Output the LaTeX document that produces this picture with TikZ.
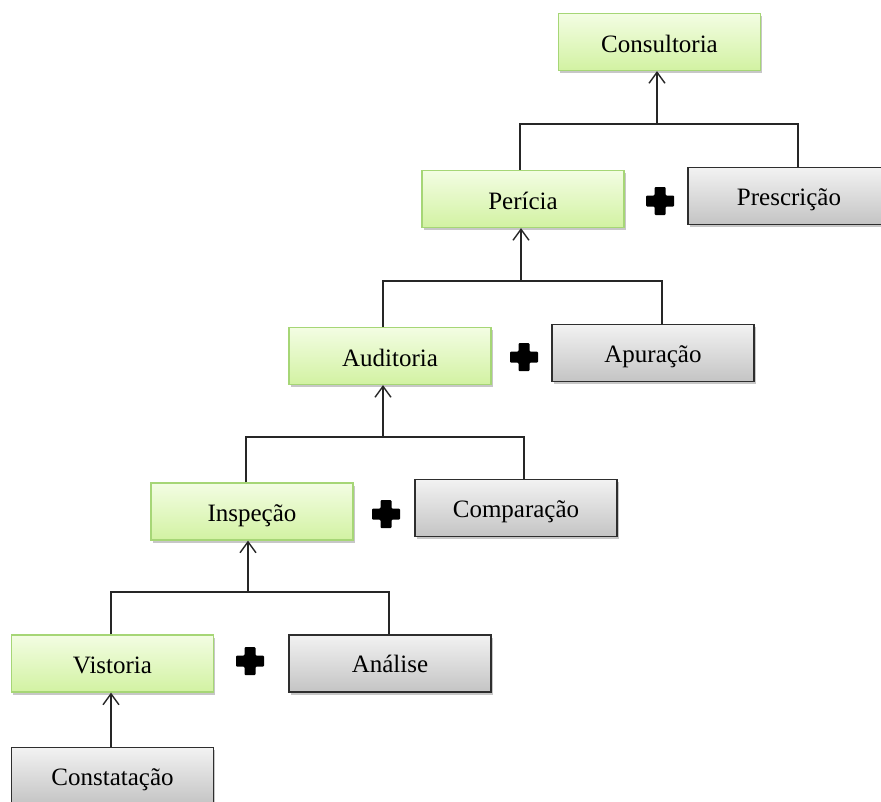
\documentclass[tikz,border=0pt]{standalone}
\usepackage{fontspec}
\setmainfont{Liberation Serif}
\usetikzlibrary{arrows.meta,shadows}

\definecolor{greentop}{HTML}{F3FDE3}
\definecolor{greenbot}{HTML}{D2F2A2}
\definecolor{greenline}{HTML}{A6D676}
\definecolor{graytop}{HTML}{F2F2F2}
\definecolor{graybot}{HTML}{C4C4C4}
\definecolor{grayline}{HTML}{2E2E2E}

\tikzset{
  stage/.style={rectangle, minimum width=202pt, minimum height=57pt,
    inner sep=0pt, font=\fontsize{25}{29}\selectfont, text=black,
    text depth=5pt,
    drop shadow={shadow xshift=1.5pt, shadow yshift=-2.5pt, opacity=0.22, fill=black}},
  greenbox/.style={stage, text height=25pt, draw=greenline, line width=1.2pt,
    top color=greentop, bottom color=greenbot},
  graybox/.style={stage, text height=23pt, draw=grayline, line width=1.4pt,
    top color=graytop, bottom color=graybot},
  link/.style={draw=black!85, line width=1.4pt},
  uparrow/.style={link, -{Straight Barb[length=11pt,width=16pt,line width=1.4pt]}},
  pics/plusmark/.style={code={
    \fill[black, rounded corners=1pt]
      (-5.5,-14) -- (5.5,-14) -- (5.5,-5.5) -- (14,-5.5) -- (14,5.5) -- (5.5,5.5) --
      (5.5,14) -- (-5.5,14) -- (-5.5,5.5) -- (-14,5.5) -- (-14,-5.5) -- (-5.5,-5.5) -- cycle;
  }}
}

\begin{document}
\begin{tikzpicture}[x=1pt, y=-1pt]
  \useasboundingbox (0,0) rectangle (881,801);

  % stages
  \node[greenbox] (con) at (659.5,42)  {Consultoria};
  \node[greenbox] (per) at (523,199)   {Perícia};
  \node[graybox]  (pre) at (789,196)   {Prescrição};
  \node[greenbox] (aud) at (390,356)   {Auditoria};
  \node[graybox]  (apu) at (653,353)   {Apuração};
  \node[greenbox] (ins) at (252,511.5) {Inspeção};
  \node[graybox]  (com) at (516,508)   {Comparação};
  \node[greenbox] (vis) at (112.5,663.5) {Vistoria};
  \node[graybox]  (ana) at (390,663.5) {Análise};
  \node[graybox]  (cst) at (112.5,776) {Constatação};

  % plus signs between the pairs
  \pic at (660,201) {plusmark};
  \pic at (524,357) {plusmark};
  \pic at (386,514) {plusmark};
  \pic at (250,661) {plusmark};

  % joints where each pair meets
  \coordinate (j1) at (657,124);
  \coordinate (j2) at (521,281);
  \coordinate (j3) at (383,437);
  \coordinate (j4) at (248,592);

  % connectors
  \draw[link] (per.north -| 520,0) |- (j1) -| (pre.north -| 798,0);
  \draw[uparrow] (j1) -- (j1 |- con.south);
  \draw[link] (aud.north -| 383,0) |- (j2) -| (apu.north -| 662,0);
  \draw[uparrow] (j2) -- (j2 |- per.south);
  \draw[link] (ins.north -| 246,0) |- (j3) -| (com.north -| 524,0);
  \draw[uparrow] (j3) -- (j3 |- aud.south);
  \draw[link] (vis.north -| 111,0) |- (j4) -| (ana.north -| 389,0);
  \draw[uparrow] (j4) -- (j4 |- ins.south);
  \draw[uparrow] (cst.north -| 111,0) -- (vis.south -| 111,0);
\end{tikzpicture}
\end{document}
